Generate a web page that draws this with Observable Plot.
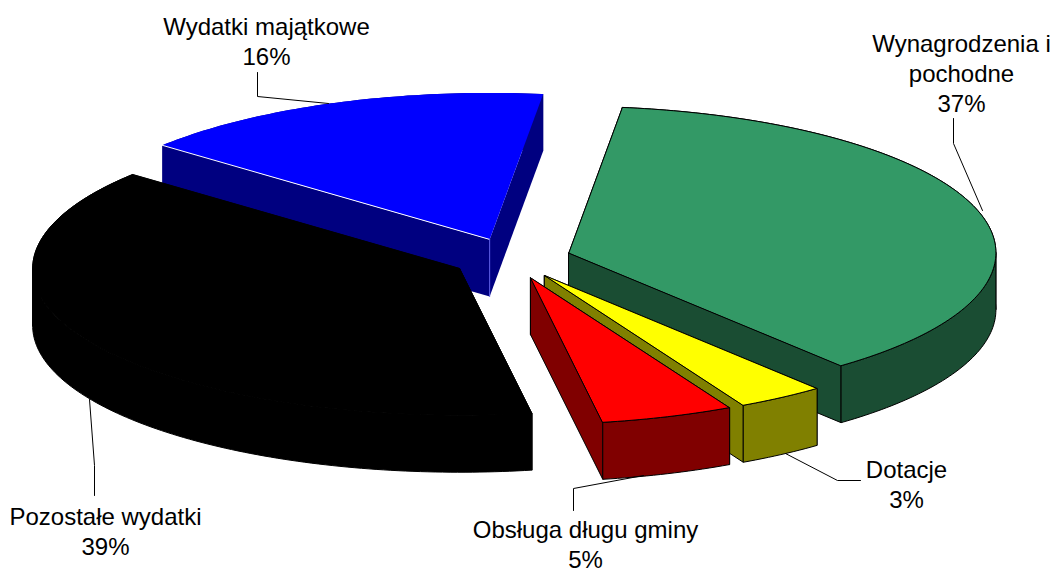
<!DOCTYPE html>
<html>
<head>
<meta charset="utf-8">
<script src="https://cdn.jsdelivr.net/npm/d3@7"></script>
<script src="https://cdn.jsdelivr.net/npm/@observablehq/plot@0.6"></script>
<style>html,body{margin:0;padding:0;background:#fff}svg{display:block}</style>
</head>
<body>
<div id="chart"></div>
<script>
// Data, in pie order (clockwise from the starting angle)
const categories = ["Wynagrodzenia i pochodne", "Dotacje", "Obsługa długu gminy", "Pozostałe wydatki", "Wydatki majątkowe"];
const shares = [37, 3.3, 5, 38.8, 15.9];
const topColors = ["#339966", "#ffff00", "#ff0000", "#000000", "#0000ff"];
const sideColors = ["#1a4d33", "#808000", "#800000", "#000000", "#000080"];
const strokeColors = ["#000000", "#000000", "#000000", "#000000", "none"];
const paintOrder = [4, 3, 0, 1, 2];

// Labels
const labelTexts = ["Wynagrodzenia i\npochodne\n37%", "Dotacje\n3%", "Obsługa długu gminy\n5%", "Pozostałe wydatki\n39%", "Wydatki majątkowe\n16%"];
const labelX = [961, 906, 585, 105, 266];
const labelY = [72, 483, 543, 530, 40];
const leaders = [
  [[953, 118], [953, 143], [982, 210]],
  [[785, 453], [837, 480], [860, 480]],
  [[573, 510], [573, 488], [643, 475]],
  [[94, 495], [94, 465], [89, 399]],
  [[257, 72], [257, 96], [328, 103]]
];

// 3D pie projection
const cx = 511, cy = 258, rx = 427, ry = 146.5, depth = 57, explode = 0.14, startAngle = 7.2;
const rad = a => a * Math.PI / 180;
const total = d3.sum(shares);
let acc = startAngle;
const slices = shares.map((s, i) => {
  const a0 = acc, a1 = acc + s / total * 360;
  acc = a1;
  const mid = (a0 + a1) / 2;
  const ax = cx + explode * rx * Math.sin(rad(mid));
  const ay = cy - explode * ry * Math.cos(rad(mid));
  const pt = a => [ax + rx * Math.sin(rad(a)), ay - ry * Math.cos(rad(a))];
  const arcOf = (b0, b1) => d3.range(0, Math.ceil(b1 - b0) + 1).map(k => pt(Math.min(b0 + k, b1)));
  // wall pieces are split at the ellipse's left and right extremes so each is a simple polygon
  const breaks = [a0, ...[90, 270, 450].filter(b => b > a0 && b < a1), a1];
  const walls = d3.pairs(breaks).map(([b0, b1]) => arcOf(b0, b1));
  return {i, a0, a1, apex: [ax, ay], arc: arcOf(a0, a1), walls};
});
const down = p => [p[0], p[1] + depth];
const poly = (pts, fill, stroke) => Plot.line(pts, {
  x: d => d[0], y: d => d[1], fill, stroke, strokeWidth: 1, curve: "linear-closed"
});

const marks = [];
for (const idx of paintOrder) {
  const s = slices[idx];
  const first = s.arc[0], last = s.arc[s.arc.length - 1];
  const side = sideColors[idx], top = topColors[idx], st = strokeColors[idx];
  // cut faces, outer wall, then the top
  marks.push(poly([s.apex, first, down(first), down(s.apex)], side, st));
  marks.push(poly([s.apex, last, down(last), down(s.apex)], side, st));
  for (const w of s.walls) marks.push(poly([...w, ...w.slice().reverse().map(down)], side, st));
  marks.push(poly([s.apex, ...s.arc], top, st));
  if (st === "none") {
    marks.push(Plot.line([first, s.apex], {x: d => d[0], y: d => d[1], stroke: "#ffffff", strokeWidth: 1}));
    marks.push(Plot.line([s.apex, down(s.apex)], {x: d => d[0], y: d => d[1], stroke: "#5a5ae6", strokeWidth: 1}));
  }
}
for (const l of leaders) {
  marks.push(Plot.line(l, {x: d => d[0], y: d => d[1], stroke: "#000000", strokeWidth: 1}));
}
marks.push(Plot.text(labelTexts, {
  x: (d, i) => labelX[i], y: (d, i) => labelY[i], text: d => d,
  fill: "#000000", fontSize: 24, lineHeight: 1.25, textAnchor: "middle"
}));

const chart = Plot.plot({
  width: 1053, height: 573,
  marginTop: 0, marginRight: 0, marginBottom: 0, marginLeft: 0,
  x: {domain: [0, 1053], axis: null},
  y: {domain: [573, 0], axis: null},
  style: {background: "#ffffff", fontFamily: "'Liberation Sans', Arial, sans-serif"},
  marks
});
document.getElementById("chart").appendChild(chart);
</script>
</body>
</html>
